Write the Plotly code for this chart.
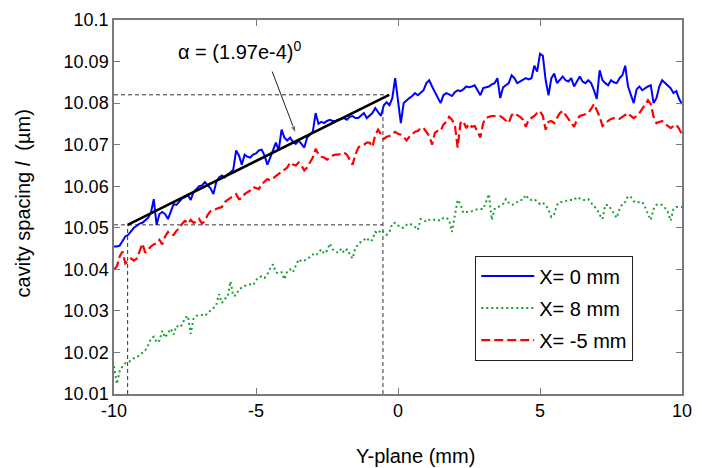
import numpy as np
import plotly.graph_objects as go

# Y-plane positions (mm), sampled every 0.1 mm
y_plane = np.round(np.arange(-10, 10.0001, 0.1), 1)

# cavity spacing (um) along the Y-plane for three X positions
spacing_x0 = [
    10.0455, 10.0455, 10.0457, 10.0469, 10.0479, 10.0483, 10.0493, 10.0500, 10.0505, 10.0510,
    10.0512, 10.0517, 10.0524, 10.0536, 10.0569, 10.0507, 10.0533, 10.0538, 10.0533, 10.0521,
    10.0538, 10.0557, 10.0555, 10.0564, 10.0571, 10.0574, 10.0579, 10.0567, 10.0586, 10.0593,
    10.0600, 10.0602, 10.0610, 10.0602, 10.0595, 10.0581, 10.0610, 10.0621, 10.0626, 10.0621,
    10.0629, 10.0633, 10.0640, 10.0686, 10.0674, 10.0652, 10.0676, 10.0671, 10.0669, 10.0676,
    10.0679, 10.0686, 10.0688, 10.0674, 10.0652, 10.0669, 10.0686, 10.0705, 10.0686, 10.0736,
    10.0717, 10.0710, 10.0717, 10.0707, 10.0702, 10.0710, 10.0702, 10.0693, 10.0717, 10.0724,
    10.0731, 10.0776, 10.0750, 10.0755, 10.0752, 10.0757, 10.0760, 10.0757, 10.0757, 10.0760,
    10.0762, 10.0764, 10.0760, 10.0767, 10.0769, 10.0764, 10.0764, 10.0771, 10.0776, 10.0764,
    10.0771, 10.0776, 10.0788, 10.0779, 10.0769, 10.0795, 10.0802, 10.0795, 10.0812, 10.0860,
    10.0807, 10.0752, 10.0800, 10.0807, 10.0812, 10.0817, 10.0824, 10.0819, 10.0824, 10.0831,
    10.0848, 10.0855, 10.0840, 10.0826, 10.0810, 10.0800, 10.0819, 10.0824, 10.0821, 10.0817,
    10.0826, 10.0831, 10.0829, 10.0833, 10.0840, 10.0838, 10.0840, 10.0843, 10.0831, 10.0819,
    10.0836, 10.0838, 10.0840, 10.0845, 10.0848, 10.0860, 10.0812, 10.0838, 10.0843, 10.0848,
    10.0867, 10.0860, 10.0848, 10.0852, 10.0857, 10.0860, 10.0857, 10.0860, 10.0890, 10.0876,
    10.0919, 10.0914, 10.0855, 10.0819, 10.0860, 10.0871, 10.0848, 10.0857, 10.0864, 10.0855,
    10.0852, 10.0860, 10.0840, 10.0852, 10.0864, 10.0852, 10.0848, 10.0855, 10.0848, 10.0831,
    10.0810, 10.0879, 10.0855, 10.0848, 10.0843, 10.0855, 10.0850, 10.0848, 10.0860, 10.0867,
    10.0890, 10.0840, 10.0819, 10.0800, 10.0833, 10.0840, 10.0831, 10.0836, 10.0840, 10.0843,
    10.0800, 10.0812, 10.0840, 10.0855, 10.0848, 10.0843, 10.0836, 10.0824, 10.0829, 10.0810,
    10.0798,
]

spacing_x8 = [
    10.0167, 10.0124, 10.0155, 10.0167, 10.0174, 10.0176, 10.0181, 10.0186, 10.0188, 10.0193,
    10.0198, 10.0205, 10.0217, 10.0233, 10.0238, 10.0224, 10.0229, 10.0252, 10.0236, 10.0245,
    10.0257, 10.0243, 10.0264, 10.0260, 10.0267, 10.0283, 10.0288, 10.0245, 10.0281, 10.0288,
    10.0290, 10.0290, 10.0288, 10.0295, 10.0300, 10.0307, 10.0314, 10.0340, 10.0319, 10.0329,
    10.0333, 10.0371, 10.0336, 10.0338, 10.0352, 10.0357, 10.0360, 10.0362, 10.0364, 10.0362,
    10.0374, 10.0381, 10.0383, 10.0379, 10.0388, 10.0402, 10.0412, 10.0393, 10.0390, 10.0393,
    10.0376, 10.0395, 10.0400, 10.0393, 10.0407, 10.0424, 10.0419, 10.0421, 10.0426, 10.0429,
    10.0436, 10.0433, 10.0440, 10.0448, 10.0438, 10.0445, 10.0462, 10.0448, 10.0443, 10.0440,
    10.0450, 10.0440, 10.0448, 10.0438, 10.0426, 10.0452, 10.0460, 10.0467, 10.0471, 10.0476,
    10.0467, 10.0471, 10.0490, 10.0486, 10.0495, 10.0490, 10.0483, 10.0490, 10.0510, 10.0512,
    10.0505, 10.0500, 10.0500, 10.0507, 10.0510, 10.0507, 10.0502, 10.0495, 10.0521, 10.0519,
    10.0514, 10.0519, 10.0521, 10.0519, 10.0519, 10.0517, 10.0524, 10.0524, 10.0519, 10.0490,
    10.0529, 10.0567, 10.0557, 10.0536, 10.0538, 10.0538, 10.0540, 10.0543, 10.0545, 10.0545,
    10.0545, 10.0562, 10.0581, 10.0519, 10.0545, 10.0550, 10.0552, 10.0557, 10.0569, 10.0560,
    10.0555, 10.0557, 10.0562, 10.0567, 10.0567, 10.0579, 10.0569, 10.0567, 10.0569, 10.0562,
    10.0557, 10.0560, 10.0555, 10.0543, 10.0526, 10.0533, 10.0555, 10.0562, 10.0562, 10.0564,
    10.0567, 10.0567, 10.0567, 10.0574, 10.0571, 10.0567, 10.0567, 10.0569, 10.0560, 10.0552,
    10.0545, 10.0531, 10.0521, 10.0555, 10.0555, 10.0545, 10.0533, 10.0524, 10.0545, 10.0557,
    10.0562, 10.0576, 10.0574, 10.0564, 10.0560, 10.0562, 10.0562, 10.0550, 10.0533, 10.0519,
    10.0545, 10.0555, 10.0557, 10.0555, 10.0548, 10.0538, 10.0517, 10.0545, 10.0550, 10.0550,
    10.0550,
]

spacing_xm5 = [
    10.0400, 10.0407, 10.0431, 10.0443, 10.0414, 10.0421, 10.0426, 10.0421, 10.0426, 10.0443,
    10.0462, 10.0440, 10.0448, 10.0455, 10.0460, 10.0462, 10.0471, 10.0460, 10.0479, 10.0490,
    10.0483, 10.0483, 10.0493, 10.0498, 10.0510, 10.0517, 10.0510, 10.0519, 10.0512, 10.0514,
    10.0521, 10.0510, 10.0517, 10.0531, 10.0540, 10.0543, 10.0545, 10.0548, 10.0550, 10.0562,
    10.0567, 10.0571, 10.0576, 10.0581, 10.0569, 10.0571, 10.0581, 10.0586, 10.0590, 10.0598,
    10.0595, 10.0593, 10.0605, 10.0610, 10.0617, 10.0614, 10.0619, 10.0624, 10.0629, 10.0633,
    10.0638, 10.0645, 10.0657, 10.0652, 10.0650, 10.0657, 10.0650, 10.0638, 10.0645, 10.0657,
    10.0669, 10.0690, 10.0676, 10.0671, 10.0669, 10.0664, 10.0669, 10.0674, 10.0676, 10.0676,
    10.0679, 10.0681, 10.0676, 10.0664, 10.0652, 10.0676, 10.0693, 10.0698, 10.0700, 10.0705,
    10.0705, 10.0695, 10.0724, 10.0736, 10.0724, 10.0714, 10.0719, 10.0721, 10.0726, 10.0731,
    10.0726, 10.0724, 10.0719, 10.0710, 10.0719, 10.0726, 10.0731, 10.0733, 10.0740, 10.0740,
    10.0731, 10.0721, 10.0700, 10.0729, 10.0733, 10.0733, 10.0748, 10.0755, 10.0767, 10.0760,
    10.0748, 10.0693, 10.0752, 10.0757, 10.0740, 10.0750, 10.0743, 10.0745, 10.0731, 10.0717,
    10.0752, 10.0764, 10.0767, 10.0769, 10.0769, 10.0769, 10.0769, 10.0764, 10.0757, 10.0752,
    10.0771, 10.0776, 10.0771, 10.0767, 10.0760, 10.0743, 10.0760, 10.0764, 10.0769, 10.0776,
    10.0781, 10.0769, 10.0736, 10.0755, 10.0757, 10.0752, 10.0764, 10.0776, 10.0781, 10.0771,
    10.0762, 10.0752, 10.0743, 10.0760, 10.0769, 10.0771, 10.0774, 10.0776, 10.0786, 10.0798,
    10.0783, 10.0767, 10.0745, 10.0752, 10.0757, 10.0762, 10.0764, 10.0764, 10.0762, 10.0767,
    10.0771, 10.0776, 10.0769, 10.0764, 10.0769, 10.0776, 10.0786, 10.0798, 10.0807, 10.0798,
    10.0767, 10.0752, 10.0755, 10.0757, 10.0750, 10.0745, 10.0740, 10.0745, 10.0748, 10.0738,
    10.0724,
]

series_names = ["X= 0 mm", "X= 8 mm", "X= -5 mm"]

# linear fit over the rising part of the X = 0 mm profile
fit_y = [-9.52, -0.31]
fit_l = [10.0507, 10.082]
# dashed guides marking the fit's start and end
guide_x = [-9.52, -0.53]
guide_l = [10.0507, 10.082]
# pointer from the slope label to the fit line (tail, head)
pointer_y = [-4.43, -3.60]
pointer_l = [10.0876, 10.0727]

y_ticks = [10.01, 10.02, 10.03, 10.04, 10.05, 10.06, 10.07, 10.08, 10.09, 10.1]
y_tick_text = ["10.01", "10.02", "10.03", "10.04", "10.05",
               "10.06", "10.07", "10.08", "10.09", "10.1"]
x_ticks = [-10, -5, 0, 5, 10]
x_tick_text = ["-10", "-5", "0", "5", "10"]

FONT = "Liberation Sans, Arial, Helvetica, sans-serif"

fig = go.Figure()
fig.add_trace(go.Scatter(
    x=y_plane, y=spacing_x0, mode="lines", name=series_names[0],
    line=dict(color="#0000ff", width=2), legendgroup="a"))
fig.add_trace(go.Scatter(
    x=y_plane, y=spacing_x8, mode="lines", name=series_names[1],
    line=dict(color="#1aa032", width=2, dash="2px,3px"), legendgroup="b"))
fig.add_trace(go.Scatter(
    x=y_plane, y=spacing_xm5, mode="lines", name=series_names[2],
    line=dict(color="#ff0000", width=2.2, dash="9px,4px"), legendgroup="c"))
fig.add_trace(go.Scatter(
    x=fit_y, y=fit_l, mode="lines", showlegend=False,
    line=dict(color="#000000", width=2.6)))
fig.add_trace(go.Scatter(
    x=pointer_y, y=pointer_l, mode="lines+markers", showlegend=False,
    line=dict(color="#222222", width=1),
    marker=dict(symbol=["circle", "arrow"], size=[0, 8], angleref="previous",
                color="#222222")))

guide_style = dict(color="#333333", width=1, dash="4px,3px")
shapes = [
    dict(type="line", xref="x", yref="y", x0=-10, x1=guide_x[1],
         y0=guide_l[0], y1=guide_l[0], line=guide_style, layer="below"),
    dict(type="line", xref="x", yref="y", x0=-10, x1=fit_y[1],
         y0=guide_l[1], y1=guide_l[1], line=guide_style, layer="below"),
    dict(type="line", xref="x", yref="y", x0=guide_x[0], x1=guide_x[0],
         y0=10.01, y1=guide_l[0], line=guide_style, layer="below"),
    dict(type="line", xref="x", yref="y", x0=guide_x[1], x1=guide_x[1],
         y0=10.01, y1=10.079, line=guide_style, layer="below"),
]

annotations = [
    dict(x=-5.57, y=10.0926, xref="x", yref="y", text="α = (1.97e-4)<sup>0</sup>",
         showarrow=False, font=dict(size=20, color="black", family=FONT)),
    dict(x=-0.160, y=0.51, xref="paper", yref="paper", text="cavity spacing <i>l</i>  (µm)",
         textangle=-90, showarrow=False, xanchor="center", yanchor="middle",
         font=dict(size=20, color="black", family=FONT)),
    dict(x=0.531, y=-0.167, xref="paper", yref="paper", text="Y-plane (mm)",
         showarrow=False, xanchor="center", yanchor="middle",
         font=dict(size=20, color="black", family=FONT)),
]

axis_common = dict(showline=True, linecolor="#7a7a7a", linewidth=1.5, mirror="ticks",
                   ticks="inside", ticklen=6, tickcolor="#7a7a7a", tickwidth=1,
                   showgrid=False, zeroline=False,
                   tickfont=dict(size=18, color="black", family=FONT))

fig.update_layout(
    width=702, height=468,
    margin=dict(l=114, r=10, t=16, b=74),
    paper_bgcolor="white", plot_bgcolor="white",
    font=dict(family=FONT, color="black"),
    xaxis=dict(range=[-10, 10], tickvals=x_ticks, ticktext=x_tick_text, **axis_common),
    yaxis=dict(range=[10.01, 10.1], tickvals=y_ticks, ticktext=y_tick_text, **axis_common),
    shapes=shapes,
    annotations=annotations,
    legend=dict(x=0.636, y=0.37, xanchor="left", yanchor="top",
                bgcolor="white", bordercolor="#222222", borderwidth=1,
                font=dict(size=20, color="black", family=FONT),
                traceorder="grouped", tracegroupgap=3, itemwidth=53),
)

fig.write_html("out.html")
